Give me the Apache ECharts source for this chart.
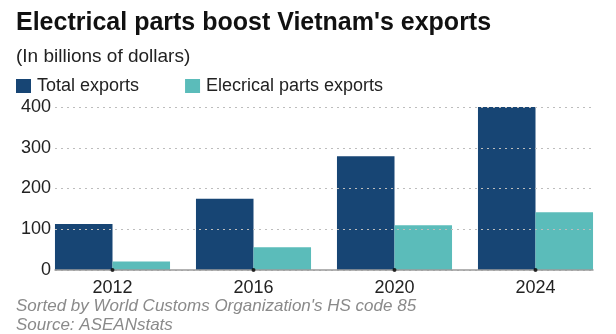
<!DOCTYPE html>
<html><head><meta charset="utf-8">
<script src="https://cdn.jsdelivr.net/npm/echarts@6/dist/echarts.min.js"></script>
<style>html,body{margin:0;padding:0;background:#fff}#c{width:616px;height:334px}</style>
</head><body><div id="c"></div>
<script>
const categories = ['2012', '2016', '2020', '2024'];
const totalExports = [113, 175, 279, 402];
const electricalExports = [21, 56, 110, 142];
const yTicks = [0, 100, 200, 300, 400];
const seriesNames = ['Total exports', 'Elecrical parts exports'];

const FONT = '"Liberation Sans", Arial, Helvetica, sans-serif';
const chart = echarts.init(document.getElementById('c'), null, {renderer: 'canvas'});
const zeros = categories.map(() => 0);
chart.setOption({
  animation: false,
  textStyle: {fontFamily: FONT},
  graphic: [
    {type: 'text', left: 16, top: 11, style: {text: "Electrical parts boost Vietnam's exports", font: 'bold 25px ' + FONT, fill: '#111'}},
    {type: 'text', left: 16, top: 47, style: {text: '(In billions of dollars)', font: '19px ' + FONT, fill: '#222'}},
    {type: 'text', left: 16, top: 298, style: {text: "Sorted by World Customs Organization's HS code 85", font: 'italic 17px ' + FONT, fill: '#8a8a8a'}},
    {type: 'text', left: 16, top: 317, style: {text: 'Source: ASEANstats', font: 'italic 17px ' + FONT, fill: '#8a8a8a'}}
  ],
  legend: {
    left: 11, top: 72, itemWidth: 15, itemHeight: 14, itemGap: 46, icon: 'rect',
    textStyle: {fontSize: 18, color: '#222', fontFamily: FONT, padding: [0,0,0,1]},
    data: seriesNames
  },
  grid: [
    {left: 55, right: 23, top: 107, bottom: 64},
    {left: 42, right: 10, top: 107, bottom: 64}
  ],
  xAxis: [
    {gridIndex: 0, type: 'category', data: categories, z: 5,
     axisLine: {show: true, lineStyle: {color: '#9a9a9a', width: 1.5}},
     axisTick: {show: false}, axisLabel: {show: false}},
    {gridIndex: 1, type: 'category', data: categories,
     axisLine: {show: false}, axisTick: {show: false},
     axisLabel: {fontSize: 18, color: '#222', margin: 9, fontFamily: FONT}}
  ],
  yAxis: [
    {gridIndex: 0, type: 'value', min: yTicks[0], max: yTicks[yTicks.length-1], interval: 100, z: 5,
     axisLine: {show: false}, axisTick: {show: false},
     axisLabel: {fontSize: 18, color: '#222', margin: 4, fontFamily: FONT},
     splitLine: {show: true, lineStyle: {color: '#bdbdbd', type: [2, 4], width: 1}}},
    {gridIndex: 1, type: 'value', min: yTicks[0], max: yTicks[yTicks.length-1], show: false,
     splitLine: {show: false}}
  ],
  series: [
    {name: seriesNames[0], type: 'bar', xAxisIndex: 1, yAxisIndex: 1, data: totalExports,
     barGap: '0%', barCategoryGap: '18.4%', z: 2,
     itemStyle: {color: '#174574'}},
    {name: seriesNames[1], type: 'bar', xAxisIndex: 1, yAxisIndex: 1, data: electricalExports,
     barGap: '0%', barCategoryGap: '18.4%', z: 2,
     itemStyle: {color: '#5bbcba'}},
    {type: 'scatter', xAxisIndex: 1, yAxisIndex: 1, data: zeros, symbol: 'circle', symbolSize: 4,
     itemStyle: {color: '#000'}, z: 10, silent: true}
  ]
});
</script></body></html>
